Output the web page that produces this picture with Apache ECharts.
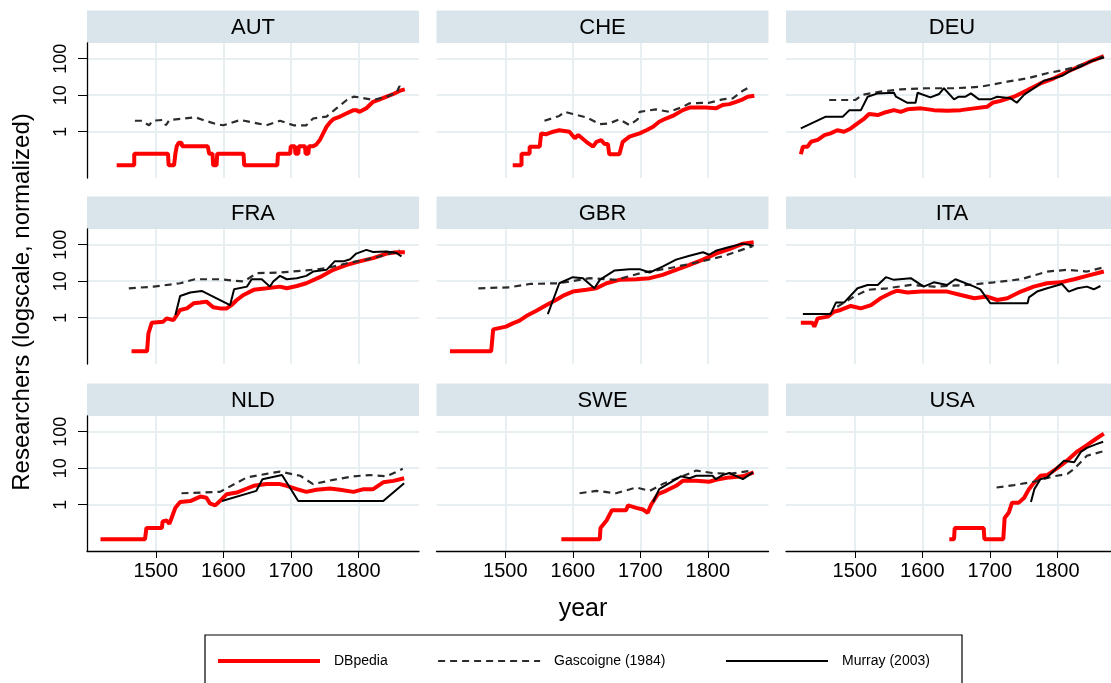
<!DOCTYPE html>
<html>
<head>
<meta charset="utf-8">
<script src="https://cdn.jsdelivr.net/npm/echarts@6/dist/echarts.min.js"></script>
<style>
  html, body { margin: 0; padding: 0; background: #fff; }
  #chart { width: 1111px; height: 683px; }
</style>
</head>
<body>
<div id="chart"></div>
<script>
// Panels, in reading order
const countries = ['AUT', 'CHE', 'DEU', 'FRA', 'GBR', 'ITA', 'NLD', 'SWE', 'USA'];
const seriesNames = ['DBpedia', 'Gascoigne (1984)', 'Murray (2003)'];
const xTickValues = [1500, 1600, 1700, 1800];
const yTickValues = [1, 10, 100];

// [year, researchers (normalized)]
const autDbpedia = [[1442,0.12],[1468,0.12],[1468,0.25],[1518,0.25],[1519,0.12],[1527,0.12],[1529,0.25],[1531,0.4],[1534,0.5],[1538,0.5],[1539,0.4],[1577,0.4],[1579,0.25],[1584,0.25],[1585,0.12],[1590,0.12],[1591,0.25],[1630,0.25],[1631,0.12],[1680,0.12],[1681,0.25],[1699,0.25],[1700,0.4],[1706,0.4],[1707,0.25],[1711,0.25],[1712,0.4],[1721,0.4],[1722,0.25],[1726,0.25],[1727,0.4],[1733,0.4],[1738,0.45],[1743,0.59],[1748,0.9],[1753,1.37],[1758,1.8],[1763,2.2],[1773,2.6],[1783,3.2],[1793,3.9],[1797,3.9],[1802,3.5],[1812,4.4],[1822,6.6],[1832,7.7],[1842,9.1],[1852,10.8],[1862,13.3],[1869,14.4]];
const autGascoigne = [[1469,2.0],[1480,2.0],[1485,1.7],[1490,1.5],[1495,2.0],[1510,2.1],[1515,1.5],[1520,2.1],[1543,2.3],[1558,2.5],[1570,2.1],[1590,1.6],[1600,1.5],[1625,2.1],[1650,1.7],[1664,1.5],[1684,2.0],[1704,1.5],[1723,1.5],[1733,2.3],[1753,2.6],[1768,4.4],[1783,7.4],[1793,9.1],[1802,8.7],[1822,7.4],[1842,9.1],[1857,11.7],[1861,17.8],[1864,13.8]];
const autMurray = [];

const cheDbpedia = [[1511,0.12],[1524,0.12],[1524,0.25],[1536,0.25],[1536,0.39],[1551,0.39],[1553,0.9],[1560,0.85],[1571,1.0],[1580,1.1],[1595,1.0],[1603,0.66],[1608,0.81],[1620,0.53],[1630,0.39],[1635,0.53],[1642,0.59],[1647,0.46],[1652,0.46],[1654,0.24],[1669,0.24],[1674,0.53],[1684,0.73],[1699,0.9],[1709,1.1],[1719,1.37],[1728,1.88],[1738,2.3],[1748,2.7],[1763,3.9],[1773,4.6],[1783,4.6],[1797,4.6],[1812,4.36],[1822,5.4],[1832,5.7],[1842,6.6],[1852,7.7],[1859,9.1],[1869,9.7]];
const cheGascoigne = [[1558,2.0],[1580,2.7],[1588,3.5],[1600,3.05],[1620,2.47],[1640,1.62],[1654,1.69],[1669,2.18],[1684,1.52],[1696,2.18],[1699,3.5],[1723,4.1],[1743,3.5],[1763,4.8],[1773,6.0],[1802,6.2],[1822,7.7],[1837,8.2],[1852,13.3],[1865,17.8]];
const cheMurray = [];

const deuDbpedia = [[1420,0.24],[1422,0.24],[1423,0.39],[1430,0.39],[1435,0.53],[1445,0.6],[1455,0.81],[1464,0.9],[1474,1.1],[1484,1.0],[1494,1.23],[1504,1.69],[1514,2.3],[1521,3.05],[1534,2.86],[1543,3.3],[1558,3.9],[1568,3.5],[1578,4.1],[1598,4.36],[1617,3.9],[1637,3.76],[1657,3.9],[1677,4.36],[1696,4.8],[1704,6.2],[1716,7.0],[1736,9.1],[1756,13.8],[1775,21],[1795,29],[1815,44],[1834,63],[1854,92],[1869,118]];
const deuGascoigne = [[1462,7.4],[1501,7.4],[1511,10.2],[1538,12.5],[1568,14.5],[1608,15.5],[1647,15.5],[1686,17],[1726,23.5],[1756,29],[1785,40],[1810,49],[1825,58],[1844,78],[1868,114]];
const deuMurray = [[1420,1.23],[1457,2.58],[1482,2.58],[1492,3.9],[1509,3.9],[1519,9.1],[1534,11.2],[1558,11.7],[1561,9.1],[1578,6.2],[1590,6.2],[1593,11.7],[1612,8.7],[1625,10.8],[1632,15.5],[1647,7.7],[1654,9.1],[1664,9.1],[1672,11.2],[1684,7.7],[1701,7.7],[1711,9.1],[1731,8.2],[1740,6.2],[1751,10.4],[1770,17.8],[1780,25],[1795,29],[1807,34],[1820,47],[1834,60],[1849,83],[1859,96],[1869,108]];

const fraDbpedia = [[1464,0.12],[1487,0.12],[1489,0.37],[1494,0.73],[1511,0.78],[1516,0.96],[1526,0.86],[1531,1.18],[1536,1.63],[1546,1.8],[1556,2.48],[1566,2.6],[1575,2.76],[1585,1.93],[1595,1.8],[1605,1.8],[1612,2.2],[1620,3.06],[1630,4.2],[1645,5.8],[1664,6.4],[1684,7.1],[1694,6.4],[1709,7.4],[1723,8.8],[1743,12.9],[1763,20.5],[1783,28],[1802,35],[1822,43],[1842,57],[1857,62],[1869,62]];
const fraGascoigne = [[1460,6.4],[1497,7.1],[1536,8.8],[1558,11.3],[1595,11.3],[1630,9.8],[1650,16.6],[1684,17.3],[1723,19.7],[1753,22.7],[1783,31],[1812,39],[1842,53],[1861,73]];
const fraMurray = [[1529,1.18],[1536,3.95],[1551,4.9],[1568,5.4],[1590,3.4],[1610,2.2],[1616,6.0],[1635,7.1],[1642,11.3],[1657,11.3],[1669,7.1],[1674,9.8],[1684,14],[1694,11.3],[1709,12],[1723,14],[1733,18.4],[1753,20.5],[1765,35],[1778,35],[1788,40],[1797,57],[1812,72],[1822,63],[1842,65],[1857,59],[1864,48]];

const gbrDbpedia = [[1418,0.12],[1479,0.12],[1482,0.48],[1501,0.57],[1511,0.7],[1521,0.83],[1531,1.11],[1546,1.56],[1561,2.23],[1575,3.06],[1585,3.95],[1600,5.2],[1620,5.8],[1635,6.4],[1650,8.8],[1669,10.9],[1694,11.3],[1714,12.1],[1733,14.9],[1753,20.5],[1773,28],[1793,39],[1812,57],[1832,76],[1852,107],[1868,116]];
const gbrGascoigne = [[1460,6.4],[1506,6.8],[1536,8.4],[1580,8.8],[1625,12.1],[1664,10.9],[1704,17.3],[1743,22.7],[1783,32.5],[1822,48],[1866,90]];
const gbrMurray = [[1563,1.26],[1580,8.8],[1600,12.9],[1615,12.1],[1632,6.4],[1640,10.9],[1662,19.7],[1684,21.4],[1699,21.4],[1714,17.3],[1733,25],[1753,39],[1773,50],[1793,62],[1802,53],[1812,68],[1832,86],[1852,107],[1868,94]];

const itaDbpedia = [[1420,0.73],[1437,0.73],[1440,0.57],[1445,0.96],[1460,1.07],[1469,1.46],[1479,1.63],[1494,2.1],[1509,1.8],[1524,2.2],[1538,3.4],[1553,4.7],[1563,5.5],[1578,4.9],[1598,5.2],[1617,5.2],[1637,5.2],[1657,4.2],[1677,3.4],[1696,3.8],[1711,3.06],[1726,3.4],[1746,5.2],[1765,7.1],[1785,8.8],[1805,9.3],[1825,11.3],[1844,14],[1869,18.4]];
const itaGascoigne = [[1474,2.0],[1499,3.8],[1519,5.8],[1548,6.4],[1583,7.9],[1617,7.1],[1667,7.9],[1706,9.3],[1746,11.3],[1785,18.4],[1815,20.5],[1844,18.4],[1868,23.8]];
const itaMurray = [[1423,1.26],[1464,1.26],[1472,2.6],[1484,2.6],[1504,6.4],[1519,7.9],[1534,7.9],[1546,12.9],[1558,10.9],[1583,12.1],[1602,7.1],[1617,9.3],[1637,7.9],[1649,11.3],[1677,7.1],[1686,6.0],[1701,2.48],[1756,2.48],[1758,3.6],[1770,5.2],[1785,6.4],[1807,8.4],[1817,5.2],[1830,6.4],[1844,7.1],[1854,6.0],[1864,7.4]];

const nldDbpedia = [[1418,0.114],[1484,0.114],[1486,0.23],[1509,0.23],[1510,0.35],[1516,0.37],[1520,0.3],[1522,0.37],[1524,0.37],[1529,0.83],[1536,1.19],[1551,1.26],[1566,1.67],[1575,1.56],[1580,1.09],[1588,0.96],[1595,1.26],[1605,1.94],[1620,2.15],[1635,2.78],[1645,3.3],[1664,3.67],[1684,3.67],[1694,3.3],[1709,2.67],[1723,2.25],[1738,2.56],[1758,2.78],[1773,2.56],[1793,2.25],[1808,2.67],[1822,2.67],[1837,4.1],[1852,4.5],[1868,5.3]];
const nldGascoigne = [[1538,2.06],[1595,2.25],[1635,5.6],[1664,7.0],[1684,8.1],[1714,6.2],[1733,3.67],[1763,4.8],[1793,6.0],[1817,6.5],[1842,6.0],[1866,9.6]];
const nldMurray = [[1598,1.26],[1649,2.4],[1658,5.0],[1687,6.5],[1711,1.26],[1837,1.26],[1868,3.9]];

const sweDbpedia = [[1583,0.114],[1640,0.114],[1641,0.23],[1650,0.37],[1658,0.71],[1679,0.71],[1682,0.96],[1694,0.82],[1704,0.74],[1711,0.6],[1716,1.0],[1726,1.94],[1738,2.4],[1753,3.3],[1763,4.5],[1783,4.5],[1802,4.26],[1812,4.8],[1832,5.6],[1852,6.0],[1868,7.7]];
const sweGascoigne = [[1610,2.06],[1635,2.4],[1664,2.06],[1694,2.96],[1714,2.4],[1733,3.67],[1758,5.6],[1783,8.6],[1807,7.4],[1832,7.0],[1866,8.6]];
const sweMurray = [[1719,1.19],[1728,2.67],[1743,3.9],[1760,6.0],[1773,5.3],[1783,6.2],[1807,6.2],[1812,5.0],[1822,6.5],[1832,7.4],[1852,5.0],[1867,7.7]];

const usaDbpedia = [[1640,0.114],[1647,0.114],[1648,0.23],[1691,0.23],[1692,0.114],[1720,0.114],[1722,0.435],[1728,0.6],[1733,1.14],[1743,1.14],[1751,1.56],[1758,2.67],[1765,3.9],[1775,6.2],[1785,6.5],[1800,10],[1815,16.4],[1830,29],[1844,43],[1857,63],[1869,89]];
const usaGascoigne = [[1710,2.96],[1736,3.45],[1765,4.26],[1795,6.0],[1815,7.0],[1825,9.6],[1844,22],[1868,29]];
const usaMurray = [[1761,1.19],[1766,2.67],[1775,5.0],[1785,5.6],[1810,16],[1825,14.6],[1835,28],[1844,36],[1857,45],[1868,53]];

const panelSeries = [
  [autDbpedia, autGascoigne, autMurray],
  [cheDbpedia, cheGascoigne, cheMurray],
  [deuDbpedia, deuGascoigne, deuMurray],
  [fraDbpedia, fraGascoigne, fraMurray],
  [gbrDbpedia, gbrGascoigne, gbrMurray],
  [itaDbpedia, itaGascoigne, itaMurray],
  [nldDbpedia, nldGascoigne, nldMurray],
  [sweDbpedia, sweGascoigne, sweMurray],
  [usaDbpedia, usaGascoigne, usaMurray]
];

// layout
const FONT = '"Liberation Sans", Arial, Helvetica, sans-serif';
const colLeft = [87, 436.5, 786];
const rowTop = [43, 229, 416];
const plotW = 332, plotH = 135, stripH = 32.5;
const gridColor = '#e8eff2';
const stripColor = '#d9e5eb';
const lineStyles = [
  { color: '#ff0000', width: 4, type: 'solid' },
  { color: '#2b2b2b', width: 2.2, type: [7, 5] },
  { color: '#000000', width: 2, type: 'solid' }
];

const grids = [], xAxes = [], yAxes = [], series = [], graphics = [];
countries.forEach((c, i) => {
  const row = Math.floor(i / 3), col = i % 3;
  const left = colLeft[col], top = rowTop[row];
  grids.push({ left: left, top: top, width: plotW, height: plotH, containLabel: false, outerBoundsMode: 'none' });
  const bottomRow = row === 2, firstCol = col === 0;
  xAxes.push({
    type: 'value', gridIndex: i, min: 1398, max: 1890,
    axisLine: { show: bottomRow, onZero: false, lineStyle: { color: '#000', width: 1.3 } },
    axisTick: { show: bottomRow, customValues: xTickValues, length: 7, lineStyle: { color: '#000', width: 1 } },
    axisLabel: { show: bottomRow, customValues: xTickValues, formatter: v => String(v), fontSize: 20, color: '#000', fontFamily: FONT, margin: 10 },
    splitLine: { show: true, lineStyle: { color: gridColor, width: 2 } }
  });
  yAxes.push({
    type: 'log', logBase: 10, gridIndex: i, min: 0.054, max: 269,
    axisLine: { show: firstCol, onZero: false, lineStyle: { color: '#000', width: 1.3 } },
    axisTick: { show: firstCol, customValues: yTickValues, length: 9, lineStyle: { color: '#000', width: 1 } },
    axisLabel: { show: firstCol, customValues: yTickValues, formatter: v => String(v), rotate: 90, fontSize: 18, color: '#000', fontFamily: FONT, margin: 17 },
    splitLine: { show: true, lineStyle: { color: gridColor, width: 2 } }
  });
  panelSeries[i].forEach((data, k) => {
    series.push({
      type: 'line', name: seriesNames[k], xAxisIndex: i, yAxisIndex: i,
      data: data, symbol: 'none', showSymbol: false, silent: true,
      lineStyle: lineStyles[k], itemStyle: { color: lineStyles[k].color },
      z: 2 + k
    });
  });
  // strip header with the country code
  graphics.push({
    type: 'rect', silent: true, z: 0,
    shape: { x: left, y: top - stripH, width: plotW, height: stripH },
    style: { fill: stripColor }
  });
  graphics.push({
    type: 'text', silent: true, z: 1,
    x: left + plotW / 2, y: top - stripH / 2 + 1,
    style: { text: c, font: '22px ' + FONT, fill: '#000', textAlign: 'center', textVerticalAlign: 'middle' }
  });
});

// axis titles
graphics.push({
  type: 'text', silent: true, x: 22, y: 302, rotation: Math.PI / 2,
  style: { text: 'Researchers (logscale, normalized)', font: '24px ' + FONT, fill: '#000', textAlign: 'center', textVerticalAlign: 'middle' }
});
graphics.push({
  type: 'text', silent: true, x: 583, y: 609,
  style: { text: 'year', font: '25px ' + FONT, fill: '#000', textAlign: 'center', textVerticalAlign: 'middle' }
});
// legend frame
graphics.push({
  type: 'rect', silent: true,
  shape: { x: 205, y: 635, width: 757, height: 70 },
  style: { fill: 'none', stroke: '#000', lineWidth: 1.2 }
});

const legendLeft = [216, 437, 725];
const legends = seriesNames.map((n, k) => ({
  data: [n], left: legendLeft[k], top: 654, padding: 0,
  itemWidth: 102, itemHeight: 14, selectedMode: false,
  itemStyle: { opacity: 0 },
  lineStyle: { color: lineStyles[k].color, width: lineStyles[k].width, type: lineStyles[k].type, opacity: 1 },
  textStyle: { fontSize: 14, color: '#000', fontFamily: FONT, padding: [0, 0, 0, 9] }
}));

const chart = echarts.init(document.getElementById('chart'), null, { renderer: 'canvas' });
chart.setOption({
  backgroundColor: '#fff',
  animation: false,
  grid: grids,
  xAxis: xAxes,
  yAxis: yAxes,
  legend: legends,
  series: series,
  graphic: graphics
});
</script>
</body>
</html>
